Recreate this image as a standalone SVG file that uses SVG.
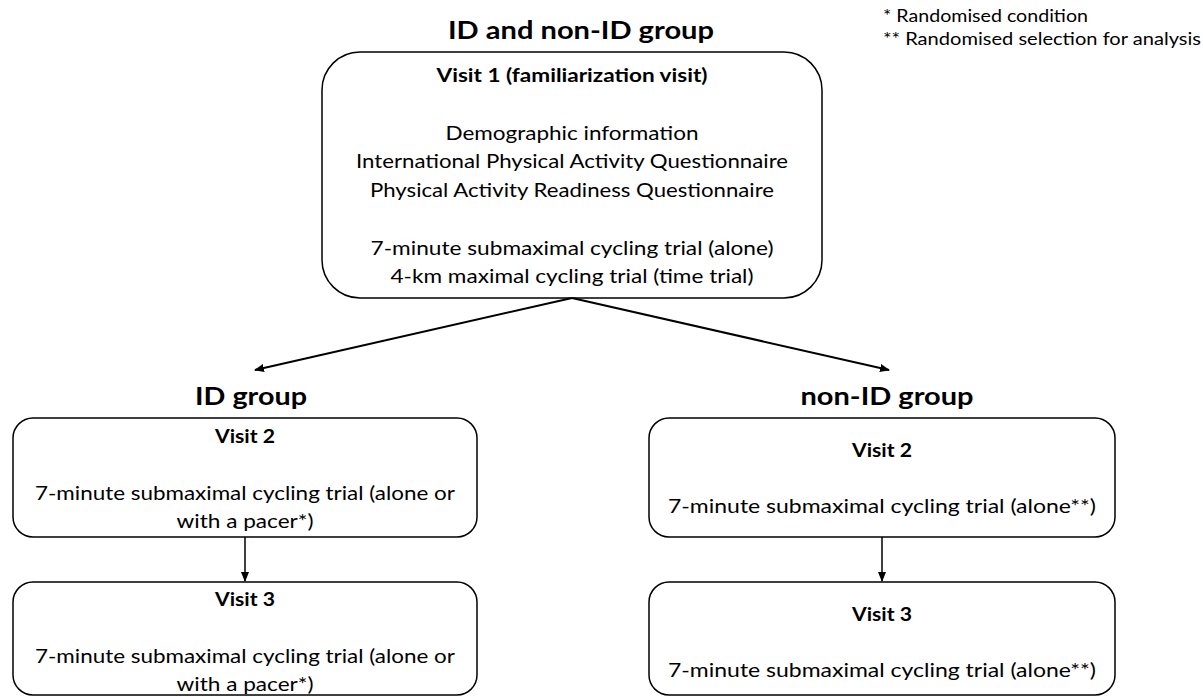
<svg xmlns="http://www.w3.org/2000/svg" width="1203" height="697" viewBox="0 0 1203 697">
<defs>
<style>
text{font-family:Lato,"Open Sans","Liberation Sans",sans-serif;fill:#000}
.h{font-weight:bold;font-size:24px;text-anchor:middle}
.b{font-weight:bold;font-size:18.5px;text-anchor:middle}
.t{font-size:19px;text-anchor:middle}
.l{font-size:17.5px}
.box{fill:#fff;stroke:#000;stroke-width:1.5}
.c{stroke:#000;fill:none}
</style>
<marker id="ah" markerUnits="userSpaceOnUse" markerWidth="10" markerHeight="8" refX="9" refY="4" orient="auto">
<path d="M0,0 L10,4 L0,8 Z" fill="#000"/>
</marker>
</defs>
<rect width="1203" height="697" fill="#fff"/>

<g id="legend">
<text class="l" x="883" y="22" textLength="205" lengthAdjust="spacingAndGlyphs">* Randomised condition</text>
<text class="l" x="883" y="45" textLength="318" lengthAdjust="spacingAndGlyphs">** Randomised selection for analysis</text>
</g>

<g id="title">
<text class="h" x="581" y="39" textLength="266" lengthAdjust="spacingAndGlyphs">ID and non-ID group</text>
</g>

<g id="visit1">
<rect class="box" x="322" y="52" width="500" height="246" rx="38" ry="38"/>
<text class="b" x="572" y="82" textLength="271" lengthAdjust="spacingAndGlyphs">Visit 1 (familiarization visit)</text>
<text class="t" x="572" y="140" textLength="253" lengthAdjust="spacingAndGlyphs">Demographic information</text>
<text class="t" x="572" y="168" textLength="432" lengthAdjust="spacingAndGlyphs">International Physical Activity Questionnaire</text>
<text class="t" x="572" y="197" textLength="404" lengthAdjust="spacingAndGlyphs">Physical Activity Readiness Questionnaire</text>
<text class="t" x="572" y="255" textLength="403" lengthAdjust="spacingAndGlyphs">7-minute submaximal cycling trial (alone)</text>
<text class="t" x="572" y="283" textLength="363" lengthAdjust="spacingAndGlyphs">4-km maximal cycling trial (time trial)</text>
</g>

<g id="id-group-title">
<text class="h" x="251" y="405" textLength="112" lengthAdjust="spacingAndGlyphs">ID group</text>
</g>
<g id="nonid-group-title">
<text class="h" x="887" y="405" textLength="173" lengthAdjust="spacingAndGlyphs">non-ID group</text>
</g>

<g id="id-visit2">
<rect class="box" x="13" y="418" width="464" height="119" rx="20" ry="20"/>
<text class="b" x="245" y="443" textLength="60" lengthAdjust="spacingAndGlyphs">Visit 2</text>
<text class="t" x="245" y="500" textLength="420" lengthAdjust="spacingAndGlyphs">7-minute submaximal cycling trial (alone or</text>
<text class="t" x="245" y="528" textLength="137" lengthAdjust="spacingAndGlyphs">with a pacer*)</text>
</g>

<g id="id-visit3">
<rect class="box" x="13" y="582" width="464" height="113" rx="20" ry="20"/>
<text class="b" x="245" y="606" textLength="60" lengthAdjust="spacingAndGlyphs">Visit 3</text>
<text class="t" x="245" y="663" textLength="420" lengthAdjust="spacingAndGlyphs">7-minute submaximal cycling trial (alone or</text>
<text class="t" x="245" y="691" textLength="137" lengthAdjust="spacingAndGlyphs">with a pacer*)</text>
</g>

<g id="nonid-visit2">
<rect class="box" x="649" y="418" width="466" height="119" rx="20" ry="20"/>
<text class="b" x="882" y="457" textLength="60" lengthAdjust="spacingAndGlyphs">Visit 2</text>
<text class="t" x="882" y="513" textLength="428" lengthAdjust="spacingAndGlyphs">7-minute submaximal cycling trial (alone**)</text>
</g>

<g id="nonid-visit3">
<rect class="box" x="649" y="582" width="466" height="113" rx="20" ry="20"/>
<text class="b" x="882" y="621" textLength="60" lengthAdjust="spacingAndGlyphs">Visit 3</text>
<text class="t" x="882" y="677" textLength="428" lengthAdjust="spacingAndGlyphs">7-minute submaximal cycling trial (alone**)</text>
</g>

<g id="connectors">
<line class="c" x1="572" y1="298" x2="255" y2="370" stroke-width="2" marker-end="url(#ah)"/>
<line class="c" x1="572" y1="298" x2="889" y2="370" stroke-width="2" marker-end="url(#ah)"/>
<line class="c" x1="245" y1="537" x2="245" y2="581" stroke-width="1.5" marker-end="url(#ah)"/>
<line class="c" x1="882" y1="537" x2="882" y2="581" stroke-width="1.5" marker-end="url(#ah)"/>
</g>
</svg>
